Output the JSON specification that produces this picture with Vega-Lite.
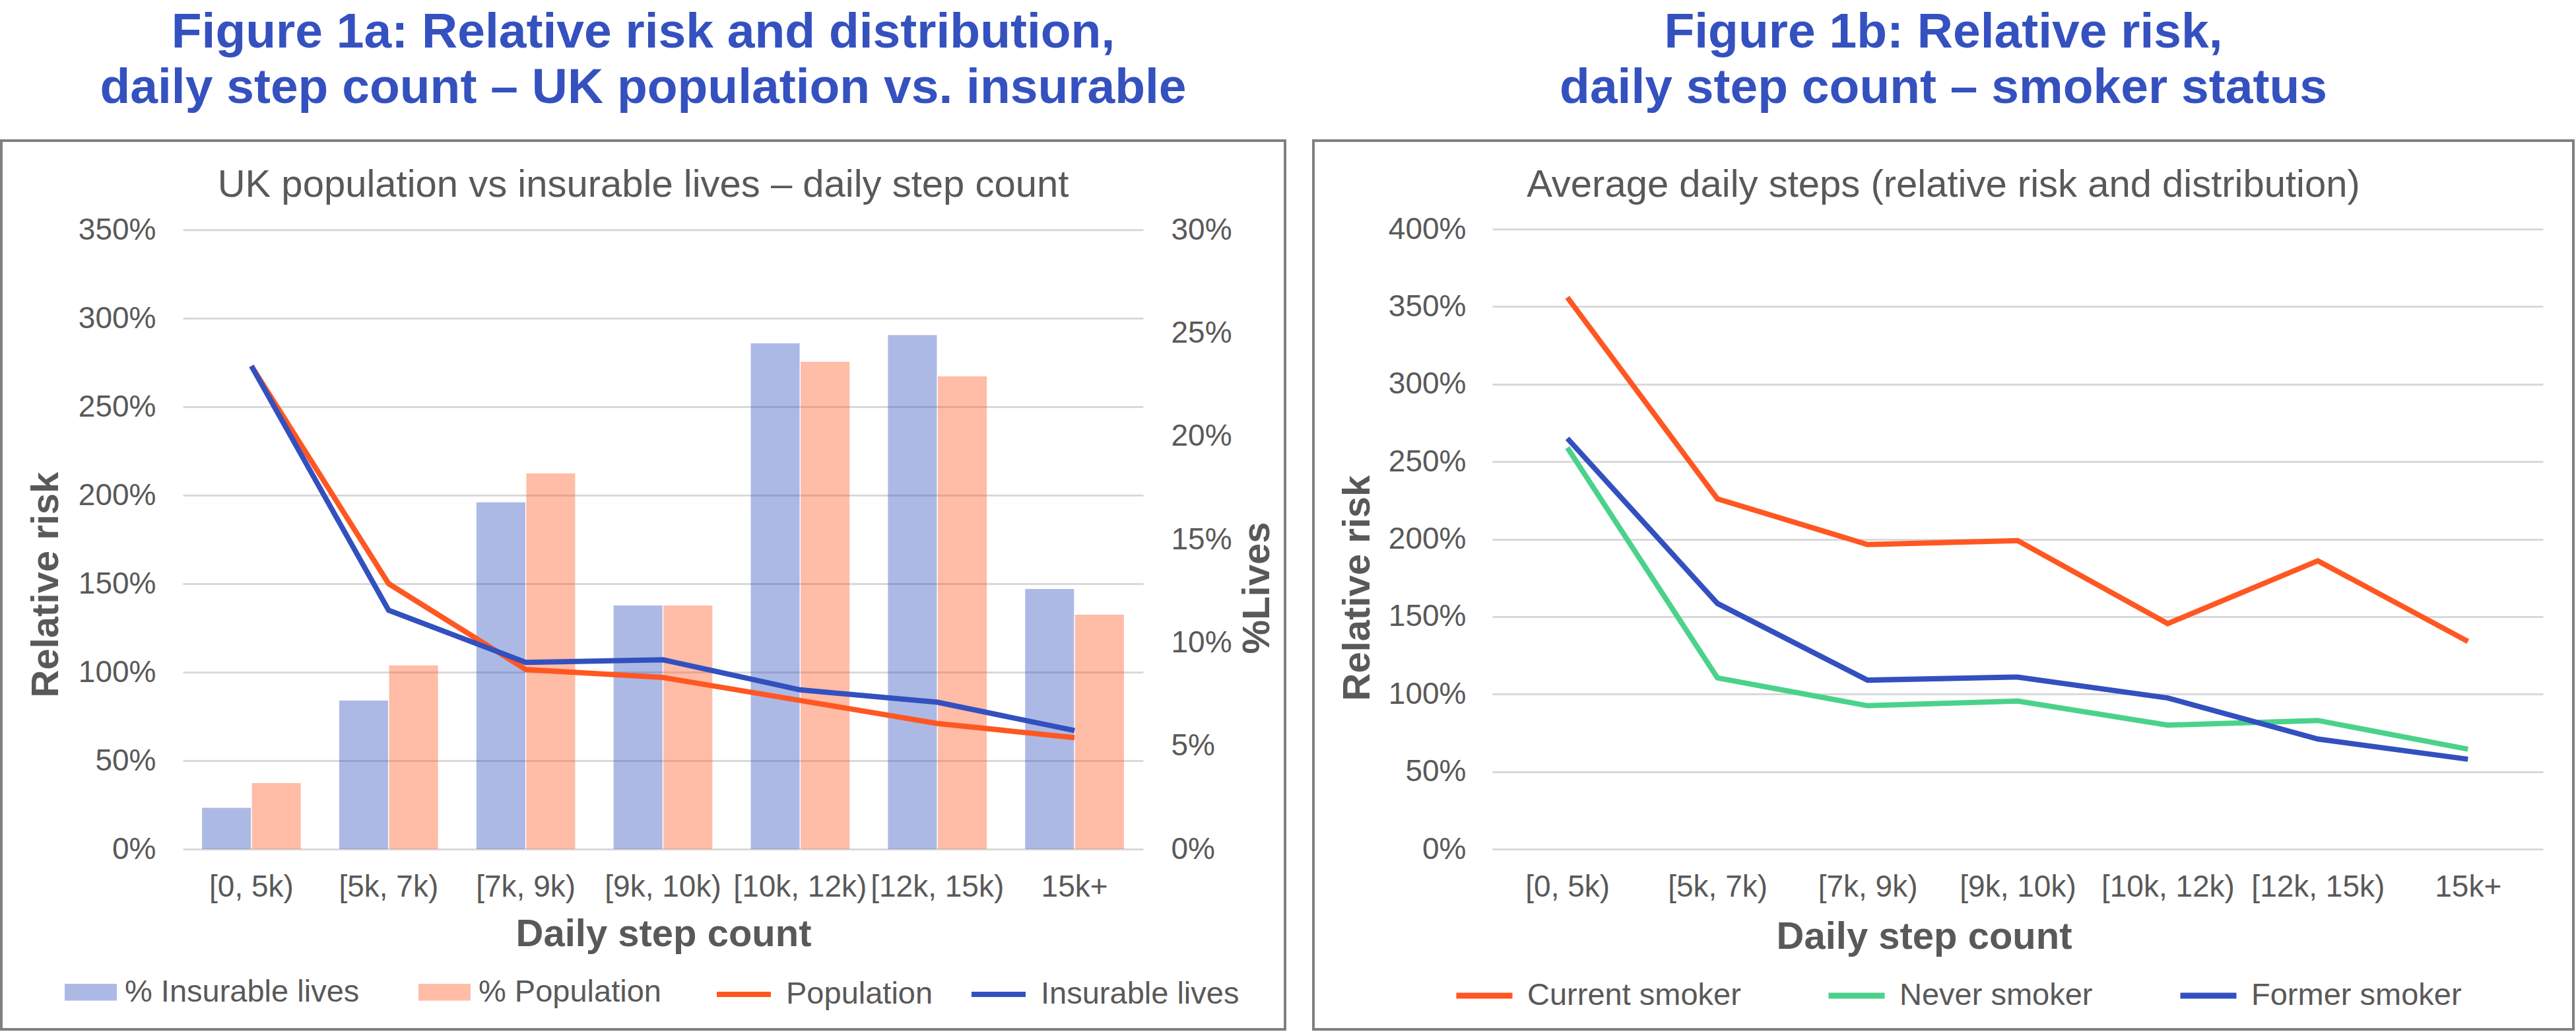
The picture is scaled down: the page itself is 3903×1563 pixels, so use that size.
{
  "$schema": "https://vega.github.io/schema/vega-lite/v6.json",
  "padding": {"left": 0, "top": 10, "right": 0, "bottom": 0},
  "background": "white",
  "spacing": 39,
  "datasets": {
    "bars1a": [
      {"step": "[0, 5k)", "series": "% Insurable lives", "share": 0.020},
      {"step": "[0, 5k)", "series": "% Population", "share": 0.032},
      {"step": "[5k, 7k)", "series": "% Insurable lives", "share": 0.072},
      {"step": "[5k, 7k)", "series": "% Population", "share": 0.089},
      {"step": "[7k, 9k)", "series": "% Insurable lives", "share": 0.168},
      {"step": "[7k, 9k)", "series": "% Population", "share": 0.182},
      {"step": "[9k, 10k)", "series": "% Insurable lives", "share": 0.118},
      {"step": "[9k, 10k)", "series": "% Population", "share": 0.118},
      {"step": "[10k, 12k)", "series": "% Insurable lives", "share": 0.245},
      {"step": "[10k, 12k)", "series": "% Population", "share": 0.236},
      {"step": "[12k, 15k)", "series": "% Insurable lives", "share": 0.249},
      {"step": "[12k, 15k)", "series": "% Population", "share": 0.229},
      {"step": "15k+", "series": "% Insurable lives", "share": 0.126},
      {"step": "15k+", "series": "% Population", "share": 0.1135}
    ],
    "lines1a": [
      {"step": "[0, 5k)", "series": "Population", "rr": 2.73},
      {"step": "[5k, 7k)", "series": "Population", "rr": 1.50},
      {"step": "[7k, 9k)", "series": "Population", "rr": 1.015},
      {"step": "[9k, 10k)", "series": "Population", "rr": 0.97},
      {"step": "[10k, 12k)", "series": "Population", "rr": 0.84},
      {"step": "[12k, 15k)", "series": "Population", "rr": 0.71},
      {"step": "15k+", "series": "Population", "rr": 0.63},
      {"step": "[0, 5k)", "series": "Insurable lives", "rr": 2.73},
      {"step": "[5k, 7k)", "series": "Insurable lives", "rr": 1.35},
      {"step": "[7k, 9k)", "series": "Insurable lives", "rr": 1.055},
      {"step": "[9k, 10k)", "series": "Insurable lives", "rr": 1.07},
      {"step": "[10k, 12k)", "series": "Insurable lives", "rr": 0.90},
      {"step": "[12k, 15k)", "series": "Insurable lives", "rr": 0.83},
      {"step": "15k+", "series": "Insurable lives", "rr": 0.67}
    ],
    "lines1b": [
      {"step": "[0, 5k)", "series": "Current smoker", "rr": 3.56},
      {"step": "[5k, 7k)", "series": "Current smoker", "rr": 2.26},
      {"step": "[7k, 9k)", "series": "Current smoker", "rr": 1.965},
      {"step": "[9k, 10k)", "series": "Current smoker", "rr": 1.99},
      {"step": "[10k, 12k)", "series": "Current smoker", "rr": 1.455},
      {"step": "[12k, 15k)", "series": "Current smoker", "rr": 1.86},
      {"step": "15k+", "series": "Current smoker", "rr": 1.34},
      {"step": "[0, 5k)", "series": "Never smoker", "rr": 2.59},
      {"step": "[5k, 7k)", "series": "Never smoker", "rr": 1.105},
      {"step": "[7k, 9k)", "series": "Never smoker", "rr": 0.925},
      {"step": "[9k, 10k)", "series": "Never smoker", "rr": 0.955},
      {"step": "[10k, 12k)", "series": "Never smoker", "rr": 0.80},
      {"step": "[12k, 15k)", "series": "Never smoker", "rr": 0.83},
      {"step": "15k+", "series": "Never smoker", "rr": 0.645},
      {"step": "[0, 5k)", "series": "Former smoker", "rr": 2.65},
      {"step": "[5k, 7k)", "series": "Former smoker", "rr": 1.585},
      {"step": "[7k, 9k)", "series": "Former smoker", "rr": 1.09},
      {"step": "[9k, 10k)", "series": "Former smoker", "rr": 1.11},
      {"step": "[10k, 12k)", "series": "Former smoker", "rr": 0.975},
      {"step": "[12k, 15k)", "series": "Former smoker", "rr": 0.71},
      {"step": "15k+", "series": "Former smoker", "rr": 0.58}
    ]
  },
  "hconcat": [
    {
      "width": 1945,
      "height": 1346,
      "title": {
        "text": ["Figure 1a: Relative risk and distribution,", "daily step count – UK population vs. insurable"],
        "subtitle": "UK population vs insurable lives – daily step count",
        "anchor": "middle",
        "offset": -98,
        "subtitlePadding": 80
      },
      "layer": [
        {
          "data": {"name": "bars1a"},
          "mark": {"type": "bar", "opacity": 0.4},
          "encoding": {
            "x": {
              "field": "step", "type": "nominal",
              "sort": ["[0, 5k)", "[5k, 7k)", "[7k, 9k)", "[9k, 10k)", "[10k, 12k)", "[12k, 15k)", "15k+"],
              "scale": {"range": [275, 1730], "paddingInner": 0.28, "paddingOuter": 0.14},
              "axis": {"orient": "bottom", "offset": -273, "labelAngle": 0, "labelBaseline": "alphabetic", "labelPadding": 71, "title": "Daily step count", "titleX": 1003, "titleY": 146, "titleBaseline": "alphabetic"}
            },
            "xOffset": {"field": "series", "type": "nominal", "sort": ["% Insurable lives", "% Population"], "scale": {"paddingInner": 0.02}},
            "y": {
              "field": "share", "type": "quantitative",
              "scale": {"domain": [0, 0.3], "range": [1073, 135], "nice": false, "zero": true},
              "axis": {"orient": "right", "offset": -215, "values": [0, 0.05, 0.1, 0.15, 0.2, 0.25, 0.3], "format": ".0%", "labelPadding": 42, "grid": false, "title": "%Lives", "titleAngle": 270, "titleX": 190, "titleY": 677, "titleBaseline": "alphabetic"}
            },
            "fill": {
              "field": "series", "type": "nominal",
              "scale": {"domain": ["% Insurable lives", "% Population"], "range": ["#3350BF", "#FF5722"]},
              "legend": {"orient": "none", "legendX": 96, "legendY": 1250, "direction": "horizontal", "title": null, "symbolType": "M-1,-0.32H1V0.32H-1Z", "symbolSize": 6241, "symbolOpacity": 0.4, "symbolStrokeWidth": 0, "labelOffset": 12, "columnPadding": 89}
            }
          }
        },
        {
          "data": {"name": "lines1a"},
          "mark": {"type": "line", "strokeWidth": 8},
          "encoding": {
            "x": {
              "field": "step", "type": "nominal",
              "sort": ["[0, 5k)", "[5k, 7k)", "[7k, 9k)", "[9k, 10k)", "[10k, 12k)", "[12k, 15k)", "15k+"]
            },
            "y": {
              "field": "rr", "type": "quantitative",
              "scale": {"domain": [0, 3.5], "range": [1073, 135], "nice": false},
              "axis": {"orient": "left", "offset": -275, "values": [0, 0.5, 1, 1.5, 2, 2.5, 3, 3.5], "format": ".0%", "labelPadding": 41, "grid": true, "title": "Relative risk", "titleAngle": 270, "titleX": -190, "titleY": 672, "titleBaseline": "alphabetic"}
            },
            "stroke": {
              "field": "series", "type": "nominal",
              "scale": {"domain": ["Population", "Insurable lives"], "range": ["#FF5722", "#3350BF"]},
              "legend": {"orient": "none", "legendX": 1080, "legendY": 1248, "direction": "horizontal", "title": null, "symbolType": "stroke", "symbolSize": 6724, "symbolStrokeWidth": 8, "labelOffset": 19, "columnPadding": 42}
            }
          }
        }
      ],
      "resolve": {"scale": {"y": "independent"}}
    },
    {
      "width": 1909,
      "height": 1346,
      "title": {
        "text": ["Figure 1b: Relative risk,", "daily step count – smoker status"],
        "subtitle": "Average daily steps (relative risk and distribution)",
        "anchor": "middle",
        "offset": -98,
        "subtitlePadding": 80
      },
      "data": {"name": "lines1b"},
      "mark": {"type": "line", "strokeWidth": 8},
      "encoding": {
        "x": {
          "field": "step", "type": "nominal",
          "sort": ["[0, 5k)", "[5k, 7k)", "[7k, 9k)", "[9k, 10k)", "[10k, 12k)", "[12k, 15k)", "15k+"],
          "scale": {"range": [271, 1863], "paddingInner": 0.28, "paddingOuter": 0.14},
          "axis": {"orient": "bottom", "offset": -273, "labelAngle": 0, "labelBaseline": "alphabetic", "labelPadding": 71, "title": "Daily step count", "titleX": 925, "titleY": 150, "titleBaseline": "alphabetic"}
        },
        "y": {
          "field": "rr", "type": "quantitative",
          "scale": {"domain": [0, 4], "range": [1073, 134], "nice": false},
          "axis": {"orient": "left", "offset": -271, "values": [0, 0.5, 1, 1.5, 2, 2.5, 3, 3.5, 4], "format": ".0%", "labelPadding": 40, "grid": true, "title": "Relative risk", "titleAngle": 270, "titleX": -187, "titleY": 677, "titleBaseline": "alphabetic"}
        },
        "stroke": {
          "field": "series", "type": "nominal",
          "scale": {"domain": ["Current smoker", "Never smoker", "Former smoker"], "range": ["#FF5722", "#4BD28A", "#3350BF"]},
          "legend": {"orient": "none", "legendX": 212, "legendY": 1248, "direction": "horizontal", "title": null, "symbolType": "stroke", "symbolSize": 7225, "symbolStrokeWidth": 9, "labelOffset": 18, "columnPadding": 114}
        }
      }
    }
  ],
  "resolve": {
    "scale": {"stroke": "independent", "fill": "independent", "x": "independent", "y": "independent"},
    "legend": {"stroke": "independent", "fill": "independent"}
  },
  "config": {
    "font": "Liberation Sans",
    "view": {"stroke": "#808080", "strokeWidth": 4},
    "axis": {
      "labelFont": "Liberation Sans", "labelFontSize": 46, "labelColor": "#595959", "labelLimit": 0,
      "titleFont": "Liberation Sans", "titleFontSize": 58, "titleColor": "#595959", "titleFontWeight": "bold", "titleLimit": 0,
      "domain": false, "ticks": false, "tickSize": 0,
      "gridColor": "#D9D9D9", "gridWidth": 3
    },
    "legend": {
      "labelFont": "Liberation Sans", "labelFontSize": 47, "labelColor": "#595959", "labelLimit": 0, "padding": 0
    },
    "title": {
      "font": "Liberation Sans", "fontSize": 75, "fontWeight": "bold", "color": "#3451BF", "lineHeight": 84,
      "subtitleFont": "Liberation Sans", "subtitleFontSize": 58, "subtitleColor": "#595959", "subtitleFontWeight": "normal", "limit": 0
    }
  }
}
